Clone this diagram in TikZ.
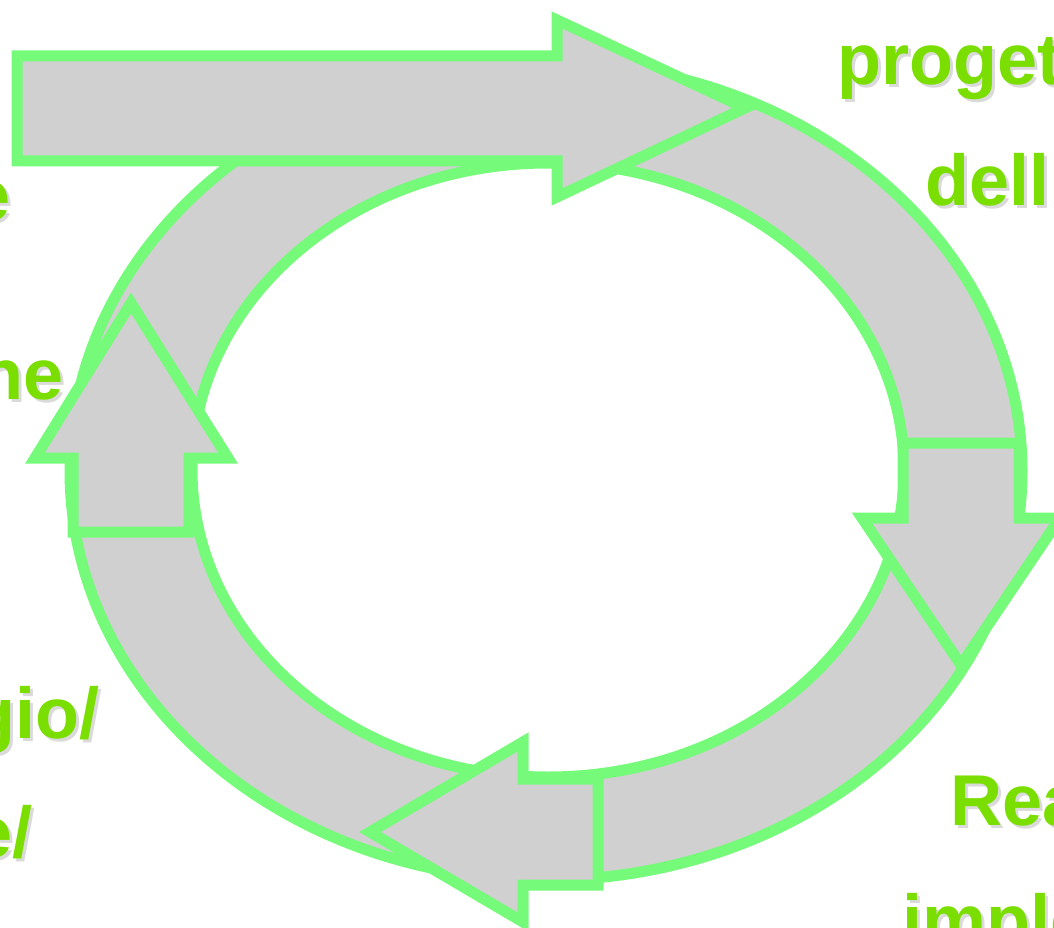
\documentclass[tikz,border=0pt]{standalone}
\usepackage{fontspec}
\setmainfont{Liberation Sans}

\definecolor{ringgreen}{RGB}{117,250,122}
\definecolor{ringgray}{RGB}{208,208,208}
\definecolor{labelgreen}{RGB}{122,222,0}
\definecolor{shadowgray}{RGB}{218,218,218}

\newcommand\shadowtext[1]{\rlap{\hspace{3pt}\raisebox{-3pt}{\color{shadowgray}#1}}#1}

\begin{document}
\begin{tikzpicture}[x=1pt,y=-1pt,
  ring part/.style={fill=ringgray,draw=ringgreen,line width=11pt,even odd rule},
  big arrow/.style={fill=ringgray,draw=ringgreen,line width=11pt},
  cycle label/.style={text=labelgreen,inner sep=0pt,
    font=\fontsize{72}{86}\selectfont\bfseries}]

  \useasboundingbox (0,0) rectangle (1054,928);

  % ring first, the arrows lie on it
  \path[ring part] (546,471) ellipse [x radius=476pt,y radius=409pt]
                   (548,470) ellipse [x radius=356pt,y radius=307pt];

  \draw[big arrow] (17,56) -- (557,56) -- (557,20) -- (745,108)
    -- (557,197) -- (557,161) -- (17,161) -- cycle;
  \draw[big arrow] (903,443) -- (1019,443) -- (1019,518) -- (1060,518)
    -- (961,665) -- (862,518) -- (903,518) -- cycle;
  \draw[big arrow] (598,779) -- (598,885) -- (523,885) -- (523,922)
    -- (370,832) -- (523,742) -- (523,779) -- cycle;
  \draw[big arrow] (73,532) -- (73,458) -- (35,458) -- (131,303)
    -- (228,458) -- (189,458) -- (189,532) -- cycle;

  % labels, cut by the page edge
  \node[cycle label,anchor=base west] (proget) at (837,85) {\shadowtext{proget}};
  \node[cycle label,anchor=base west] (dell) at (925,205) {\shadowtext{dell'}};
  \node[cycle label,anchor=base west] (rea) at (950,825) {\shadowtext{Rea}};
  \node[cycle label,anchor=base west] (impl) at (902,945) {\shadowtext{imple}};
  \node[cycle label,anchor=base east] (e) at (11,220) {\shadowtext{e}};
  \node[cycle label,anchor=base east] (ne) at (64,399) {\shadowtext{ne}};
  \node[cycle label,anchor=base east] (gio) at (100,738) {\shadowtext{gio/}};
  \node[cycle label,anchor=base east] (eslash) at (33,857) {\shadowtext{e/}};
\end{tikzpicture}
\end{document}
